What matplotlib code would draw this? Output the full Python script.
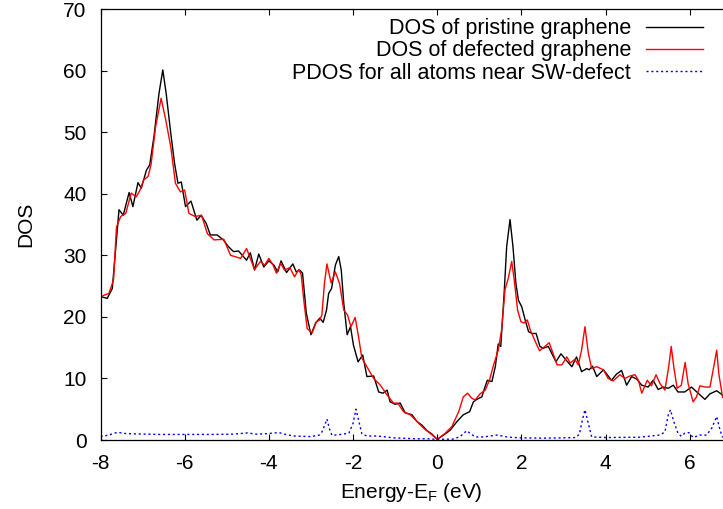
import numpy as np
import matplotlib
matplotlib.use("Agg")
import matplotlib.pyplot as plt

plt.rcParams.update({
    "font.family": "Liberation Sans", "font.size": 15,
    "mathtext.fontset": "custom", "mathtext.rm": "Liberation Sans",
    "mathtext.it": "Liberation Sans", "mathtext.default": "regular",
    "axes.unicode_minus": False,
})

# DOS of pristine graphene
e_pristine = [-8.00, -7.84, -7.72, -7.64, -7.56, -7.46, -7.32, -7.23, -7.11, -7.03,
              -6.91, -6.83, -6.73, -6.61, -6.52, -6.44, -6.33, -6.24, -6.16, -6.08,
              -5.98, -5.85, -5.71, -5.61, -5.49, -5.39, -5.23, -5.08, -4.96, -4.84,
              -4.72, -4.53, -4.44, -4.34, -4.24, -4.12, -4.00, -3.88, -3.79, -3.71,
              -3.58, -3.43, -3.35, -3.27, -3.20, -3.11, -3.00, -2.89, -2.79, -2.71,
              -2.63, -2.58, -2.51, -2.42, -2.34, -2.28, -2.22, -2.14, -2.06, -1.99,
              -1.88, -1.77, -1.67, -1.51, -1.39, -1.29, -1.19, -1.12, -1.00, -0.88,
              -0.76, -0.60, -0.48, -0.36, -0.24, -0.13, 0.00, 0.15, 0.31, 0.47,
              0.62, 0.77, 0.86, 0.94, 1.06, 1.14, 1.19, 1.30, 1.38, 1.45,
              1.51, 1.59, 1.65, 1.73, 1.80, 1.87, 1.93, 2.01, 2.09, 2.17,
              2.25, 2.35, 2.44, 2.52, 2.64, 2.72, 2.82, 2.94, 3.06, 3.20,
              3.31, 3.43, 3.55, 3.61, 3.69, 3.79, 3.95, 4.04, 4.14, 4.26,
              4.38, 4.50, 4.62, 4.74, 4.86, 5.01, 5.13, 5.25, 5.37, 5.49,
              5.61, 5.72, 5.88, 6.04, 6.20, 6.36, 6.48, 6.64, 6.78]
dos_pristine = [23.3, 23.0, 24.6, 30.9, 37.4, 36.5, 40.2, 37.9, 41.8, 40.9,
                43.8, 44.7, 49.3, 56.3, 60.1, 56.3, 49.8, 44.9, 41.7, 41.9,
                37.9, 38.8, 35.7, 36.5, 35.2, 33.3, 33.3, 32.5, 31.4, 30.6,
                30.7, 29.2, 30.4, 27.6, 30.2, 28.1, 29.1, 28.4, 27.3, 29.1,
                27.2, 28.6, 27.3, 27.6, 27.1, 20.6, 17.1, 19.0, 19.8, 19.1,
                21.1, 23.8, 24.6, 28.4, 29.8, 27.6, 22.2, 17.1, 18.4, 15.4,
                12.7, 13.8, 10.3, 10.4, 7.8, 7.6, 8.1, 6.2, 5.8, 6.0,
                4.4, 4.1, 3.0, 2.4, 1.5, 1.0, 0.1, 0.8, 1.6, 3.0,
                4.1, 4.6, 6.2, 6.6, 7.0, 8.7, 9.7, 9.5, 11.9, 15.6,
                15.2, 23.8, 31.4, 35.8, 31.4, 25.4, 22.7, 21.6, 19.5, 17.6,
                17.3, 17.3, 15.2, 14.9, 15.2, 14.1, 12.7, 14.0, 13.0, 11.9,
                13.5, 11.1, 11.6, 11.4, 12.0, 10.3, 11.4, 10.6, 9.7, 10.7,
                11.3, 8.9, 10.3, 9.9, 8.9, 8.6, 9.7, 8.2, 8.6, 8.4,
                8.9, 7.8, 7.8, 8.6, 7.6, 6.6, 7.5, 8.0, 7.3]

# DOS of defected graphene
e_defect = [-8.00, -7.80, -7.69, -7.62, -7.52, -7.40, -7.27, -7.15, -7.06, -6.98,
            -6.87, -6.80, -6.69, -6.56, -6.45, -6.33, -6.22, -6.10, -6.00, -5.90,
            -5.75, -5.60, -5.46, -5.30, -5.07, -4.91, -4.67, -4.53, -4.44, -4.34,
            -4.20, -4.10, -4.00, -3.90, -3.82, -3.72, -3.63, -3.50, -3.39, -3.29,
            -3.23, -3.17, -3.09, -2.97, -2.87, -2.79, -2.74, -2.68, -2.62, -2.52,
            -2.42, -2.32, -2.22, -2.13, -2.05, -1.95, -1.87, -1.79, -1.67, -1.51,
            -1.35, -1.19, -1.04, -0.94, -0.80, -0.64, -0.48, -0.32, -0.17, 0.00,
            0.19, 0.35, 0.51, 0.62, 0.72, 0.82, 0.90, 1.02, 1.14, 1.24,
            1.34, 1.45, 1.53, 1.61, 1.69, 1.77, 1.83, 1.91, 1.99, 2.06,
            2.14, 2.21, 2.33, 2.43, 2.56, 2.66, 2.74, 2.85, 2.96, 3.08,
            3.16, 3.27, 3.35, 3.43, 3.51, 3.59, 3.67, 3.79, 3.95, 4.06,
            4.18, 4.34, 4.46, 4.58, 4.70, 4.78, 4.86, 4.99, 5.09, 5.20,
            5.29, 5.41, 5.50, 5.56, 5.62, 5.70, 5.80, 5.89, 5.96, 6.08,
            6.16, 6.24, 6.36, 6.48, 6.57, 6.64, 6.69, 6.78]
dos_defect = [23.3, 23.8, 26.0, 34.6, 36.3, 36.8, 40.1, 39.5, 40.6, 42.2,
              42.8, 44.7, 50.9, 55.5, 52.0, 47.6, 41.7, 40.3, 40.6, 36.8,
              36.3, 36.5, 33.5, 32.5, 32.6, 30.0, 29.5, 31.1, 29.5, 27.7,
              29.0, 28.4, 29.5, 28.4, 27.1, 28.7, 27.6, 28.0, 26.5, 27.7,
              26.8, 22.7, 18.1, 17.4, 19.2, 19.5, 20.3, 25.4, 28.6, 25.5,
              27.3, 25.4, 21.1, 20.3, 18.4, 19.9, 16.8, 13.3, 11.9, 10.0,
              8.9, 7.3, 6.0, 6.0, 4.6, 4.1, 3.0, 1.9, 1.1, 0.1,
              1.1, 2.2, 4.6, 7.0, 7.6, 6.8, 6.5, 7.5, 8.1, 9.7,
              12.2, 14.6, 17.9, 24.4, 26.3, 29.0, 26.0, 21.1, 19.2, 19.0,
              19.5, 17.9, 16.0, 14.5, 15.2, 15.8, 14.3, 12.2, 12.2, 13.5,
              12.5, 13.1, 12.2, 14.6, 18.4, 14.1, 11.6, 11.9, 11.4, 10.0,
              9.6, 10.6, 10.0, 10.4, 10.6, 9.7, 7.6, 9.7, 8.8, 10.6,
              9.2, 8.1, 11.9, 15.2, 11.9, 8.4, 8.9, 12.6, 9.2, 6.2,
              7.0, 8.8, 8.6, 8.6, 11.9, 14.6, 10.8, 6.9]

# PDOS for all atoms near SW-defect
e_pdos = [-8.00, -7.80, -7.60, -7.40, -7.20, -6.60, -6.02, -5.40, -4.84, -4.51,
          -4.30, -4.10, -3.76, -3.57, -3.41, -3.01, -2.80, -2.74, -2.68, -2.62,
          -2.56, -2.50, -2.30, -2.10, -2.00, -1.93, -1.87, -1.79, -1.67, -1.43,
          -1.04, -0.50, -0.24, 0.00, 0.40, 0.55, 0.70, 0.80, 0.90, 1.10,
          1.42, 1.70, 2.00, 2.50, 3.00, 3.30, 3.38, 3.43, 3.51, 3.59,
          3.67, 4.00, 4.80, 5.29, 5.41, 5.49, 5.54, 5.62, 5.72, 5.80,
          5.88, 5.98, 6.08, 6.24, 6.40, 6.52, 6.64, 6.72, 6.78]
dos_pdos = [0.55, 0.8, 1.25, 1.05, 1.0, 0.9, 0.9, 0.9, 0.95, 1.15,
            0.95, 1.0, 1.2, 0.85, 0.65, 0.55, 0.8, 1.3, 2.3, 3.4,
            1.8, 0.75, 0.9, 1.1, 2.7, 5.0, 3.3, 1.0, 0.65, 0.65,
            0.35, 0.2, 0.2, 0.1, 0.15, 0.6, 1.5, 1.0, 0.5, 0.5,
            0.8, 0.45, 0.35, 0.3, 0.35, 0.4, 1.0, 2.7, 4.9, 2.7,
            0.5, 0.4, 0.45, 0.8, 1.3, 4.1, 4.9, 3.0, 1.1, 0.6,
            1.1, 1.2, 0.4, 0.8, 0.8, 1.9, 3.8, 1.6, 0.4]

x_ticks = [-8, -6, -4, -2, 0, 2, 4, 6]
y_ticks = [0, 10, 20, 30, 40, 50, 60, 70]

fig = plt.figure(figsize=(7.23, 5.09), dpi=100)
ax = fig.add_axes([100.5 / 723, 69 / 509, 622.5 / 723, 431 / 509])

ax.plot(e_pristine, dos_pristine, color="black", lw=1.0, label="DOS of pristine graphene")
ax.plot(e_defect, dos_defect, color="red", lw=1.0, label="DOS of defected graphene")
ax.plot(e_pdos, dos_pdos, color="blue", lw=1.0, ls=(0, (1.5, 2)),
        label="PDOS for all atoms near SW-defect")

ax.set_xlim(-8, 6.79)
ax.set_ylim(0, 70)
ax.set_xticks(x_ticks)
ax.set_yticks(y_ticks)
ax.tick_params(direction="in", top=True, right=False, length=4.5, width=0.8, labelsize=15)
ax.tick_params(axis="y", pad=10)
ax.tick_params(axis="x", pad=10)
ax.spines["right"].set_visible(False)
for s in ["left", "bottom", "top"]:
    ax.spines[s].set_linewidth(0.9)

ax.set_xlabel("Energy-E$_F$ (eV)", fontsize=15, labelpad=6)
ax.set_ylabel("DOS", fontsize=15, labelpad=20.5)

ax.legend(loc="upper right", bbox_to_anchor=(0.968, 0.979), markerfirst=False,
          frameon=False, borderaxespad=0, borderpad=0, handlelength=2.65,
          handletextpad=0.7, labelspacing=0.06, fontsize=15.5)

fig.savefig("out.png", dpi=100)
